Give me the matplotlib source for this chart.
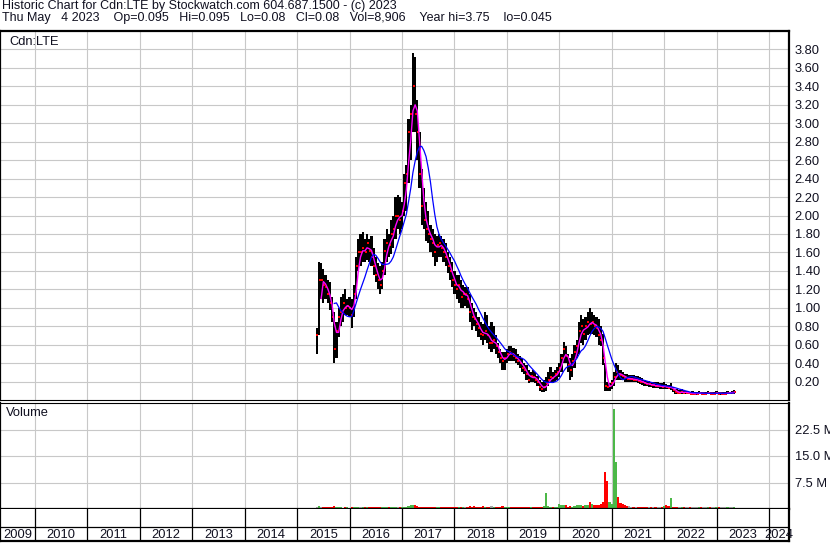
import numpy as np
import matplotlib
matplotlib.use('Agg')
import matplotlib.pyplot as plt

# ---------------- data (semi-monthly periods, starting mid-May 2015) ----------------
start_year = 2015.375
hi = [0.78, 1.50, 1.48, 1.42, 1.35, 1.30, 1.28, 1.12, 0.95, 0.85,
      1.00, 1.12, 1.15, 1.20, 1.10, 1.12, 1.10, 1.25, 1.55, 1.75,
      1.80, 1.82, 1.75, 1.80, 1.75, 1.78, 1.65, 1.55, 1.48, 1.45,
      1.50, 1.75, 1.85, 1.80, 1.95, 2.00, 2.20, 2.22, 2.20, 2.15,
      2.45, 2.55, 3.05, 3.20, 3.76, 3.72, 3.25, 2.90, 2.50, 2.30,
      2.15, 2.05, 1.90, 1.85, 1.80, 1.78, 1.80, 1.78, 1.75, 1.70,
      1.60, 1.55, 1.50, 1.40, 1.35, 1.35, 1.30, 1.25, 1.22, 1.22,
      1.15, 1.05, 1.00, 0.95, 0.90, 0.85, 0.82, 0.95, 0.92, 0.80,
      0.85, 0.80, 0.70, 0.62, 0.55, 0.52, 0.52, 0.55, 0.58, 0.58,
      0.56, 0.55, 0.50, 0.48, 0.45, 0.40, 0.38, 0.32, 0.30, 0.32,
      0.30, 0.26, 0.22, 0.20, 0.22, 0.25, 0.30, 0.36, 0.30, 0.32,
      0.36, 0.40, 0.50, 0.63, 0.58, 0.50, 0.45, 0.50, 0.60, 0.65,
      0.85, 0.92, 0.88, 0.90, 0.95, 1.00, 0.95, 0.92, 0.90, 0.88,
      0.80, 0.72, 0.40, 0.20, 0.18, 0.22, 0.30, 0.40, 0.38, 0.32,
      0.30, 0.28, 0.28, 0.27, 0.27, 0.27, 0.26, 0.26, 0.25, 0.24,
      0.22, 0.21, 0.21, 0.20, 0.20, 0.19, 0.19, 0.18, 0.18, 0.19,
      0.17, 0.16, 0.18, 0.14, 0.12, 0.12, 0.11, 0.12, 0.11, 0.10,
      0.10, 0.09, 0.10, 0.09, 0.09, 0.10, 0.09, 0.09, 0.09, 0.10,
      0.09, 0.09, 0.09, 0.10, 0.09, 0.09, 0.09, 0.09, 0.10, 0.09,
      0.10, 0.11]
lo = [0.50, 0.70, 1.10, 1.05, 1.10, 1.05, 0.98, 0.85, 0.40, 0.45,
      0.68, 0.80, 0.85, 0.92, 0.92, 0.90, 0.78, 0.90, 1.10, 1.40,
      1.45, 1.50, 1.50, 1.52, 1.50, 1.45, 1.35, 1.28, 1.20, 1.15,
      1.20, 1.35, 1.50, 1.55, 1.58, 1.65, 1.75, 1.85, 1.80, 1.85,
      2.00, 2.05, 2.35, 2.60, 2.90, 2.90, 2.60, 2.30, 1.90, 1.85,
      1.72, 1.70, 1.60, 1.55, 1.45, 1.50, 1.55, 1.55, 1.50, 1.45,
      1.38, 1.30, 1.22, 1.15, 1.10, 1.05, 1.00, 1.00, 1.02, 1.00,
      0.85, 0.76, 0.80, 0.75, 0.68, 0.65, 0.60, 0.65, 0.62, 0.55,
      0.52, 0.55, 0.50, 0.45, 0.40, 0.33, 0.32, 0.40, 0.42, 0.42,
      0.42, 0.40, 0.38, 0.35, 0.30, 0.28, 0.22, 0.18, 0.20, 0.20,
      0.18, 0.15, 0.10, 0.09, 0.09, 0.10, 0.15, 0.18, 0.18, 0.20,
      0.22, 0.25, 0.30, 0.40, 0.40, 0.30, 0.22, 0.25, 0.35, 0.45,
      0.50, 0.62, 0.60, 0.65, 0.70, 0.72, 0.72, 0.70, 0.68, 0.60,
      0.58, 0.38, 0.10, 0.10, 0.10, 0.12, 0.15, 0.22, 0.22, 0.22,
      0.22, 0.20, 0.20, 0.20, 0.20, 0.19, 0.19, 0.18, 0.17, 0.16,
      0.15, 0.15, 0.14, 0.14, 0.13, 0.13, 0.13, 0.12, 0.12, 0.12,
      0.12, 0.12, 0.11, 0.09, 0.07, 0.06, 0.06, 0.06, 0.06, 0.06,
      0.06, 0.06, 0.06, 0.05, 0.05, 0.06, 0.06, 0.05, 0.05, 0.06,
      0.06, 0.05, 0.05, 0.06, 0.06, 0.05, 0.05, 0.05, 0.06, 0.06,
      0.06, 0.07]
close = [0.70, 1.30, 1.30, 1.25, 1.22, 1.15, 1.05, 0.90, 0.55, 0.75,
         0.90, 0.95, 1.05, 1.00, 1.02, 1.00, 0.92, 1.15, 1.45, 1.60,
         1.60, 1.65, 1.60, 1.70, 1.62, 1.55, 1.45, 1.35, 1.30, 1.25,
         1.40, 1.62, 1.70, 1.68, 1.80, 1.85, 2.00, 2.00, 1.95, 2.05,
         2.35, 2.45, 2.90, 3.10, 3.40, 3.10, 2.90, 2.45, 2.10, 1.95,
         1.85, 1.80, 1.75, 1.70, 1.60, 1.68, 1.70, 1.65, 1.60, 1.55,
         1.45, 1.40, 1.30, 1.25, 1.20, 1.25, 1.12, 1.15, 1.15, 1.10,
         0.95, 0.90, 0.88, 0.82, 0.78, 0.72, 0.70, 0.75, 0.70, 0.62,
         0.62, 0.65, 0.58, 0.52, 0.45, 0.42, 0.45, 0.50, 0.52, 0.50,
         0.48, 0.45, 0.42, 0.40, 0.35, 0.32, 0.28, 0.22, 0.26, 0.25,
         0.22, 0.20, 0.14, 0.12, 0.14, 0.18, 0.22, 0.25, 0.24, 0.28,
         0.30, 0.35, 0.45, 0.55, 0.48, 0.38, 0.32, 0.42, 0.52, 0.58,
         0.75, 0.80, 0.72, 0.80, 0.85, 0.82, 0.85, 0.80, 0.78, 0.70,
         0.65, 0.45, 0.15, 0.14, 0.15, 0.18, 0.25, 0.30, 0.28, 0.27,
         0.26, 0.24, 0.23, 0.23, 0.23, 0.22, 0.22, 0.21, 0.20, 0.19,
         0.18, 0.17, 0.17, 0.16, 0.16, 0.15, 0.15, 0.15, 0.14, 0.15,
         0.14, 0.13, 0.14, 0.11, 0.09, 0.08, 0.08, 0.09, 0.08, 0.08,
         0.08, 0.07, 0.07, 0.07, 0.07, 0.08, 0.07, 0.07, 0.07, 0.08,
         0.07, 0.07, 0.07, 0.08, 0.07, 0.07, 0.07, 0.07, 0.08, 0.08,
         0.08, 0.09]
volume_m = [0.6, 0.8, 0.7, 0.5, 0.5, 0.6, 0.5, 0.5, 0.8, 0.6,
            0.5, 0.5, 0.4, 0.5, 0.5, 0.4, 0.5, 0.6, 0.7, 0.6,
            0.6, 0.5, 0.5, 0.5, 0.5, 0.5, 0.5, 0.5, 0.5, 0.5,
            0.5, 0.6, 0.6, 0.5, 0.6, 0.6, 0.7, 0.6, 0.6, 0.6,
            0.7, 0.7, 0.9, 1.0, 1.1, 1.0, 0.8, 0.7, 0.7, 0.6,
            0.6, 0.5, 0.5, 0.5, 0.5, 0.5, 0.5, 0.5, 0.5, 0.5,
            0.5, 0.5, 0.5, 0.6, 0.6, 0.6, 0.7, 0.6, 0.6, 0.7,
            0.8, 0.7, 0.8, 0.7, 0.7, 0.7, 0.8, 0.6, 0.6, 0.7,
            0.8, 0.7, 0.7, 0.6, 0.7, 0.8, 0.7, 0.6, 0.6, 0.7,
            0.6, 0.6, 0.6, 0.5, 0.6, 0.6, 0.5, 0.6, 0.6, 0.5,
            0.6, 0.6, 0.7, 0.7, 0.8, 4.4, 0.8, 0.7, 0.6, 0.7,
            0.7, 1.4, 1.0, 1.2, 1.0, 0.7, 0.8, 0.7, 0.9, 1.0,
            1.2, 1.0, 0.9, 1.0, 1.2, 2.0, 1.4, 1.1, 1.0, 1.2,
            1.5, 2.0, 10.6, 8.0, 2.0, 1.5, 28.4, 13.4, 3.4, 1.8,
            1.4, 1.0, 0.9, 0.8, 0.7, 0.7, 0.7, 0.6, 0.6, 0.6,
            0.6, 0.6, 0.6, 0.6, 0.6, 0.6, 0.7, 0.7, 0.7, 0.8,
            1.0, 0.8, 3.1, 0.7, 0.7, 0.7, 0.6, 0.6, 0.6, 0.6,
            0.5, 0.5, 0.5, 0.5, 0.5, 0.6, 0.5, 0.5, 0.5, 0.5,
            0.5, 0.5, 0.5, 0.5, 0.5, 0.5, 0.5, 0.5, 0.5, 0.5,
            0.5, 0.5]

years = list(range(2009, 2025))
price_ticks = [0.2, 0.4, 0.6, 0.8, 1.0, 1.2, 1.4, 1.6, 1.8, 2.0,
               2.2, 2.4, 2.6, 2.8, 3.0, 3.2, 3.4, 3.6, 3.8]
vol_ticks = [7.5, 15.0, 22.5]
vol_tick_labels = ['7.5 M', '15.0 M', '22.5 M']
title1 = 'Historic Chart for Cdn:LTE by Stockwatch.com 604.687.1500 - (c) 2023'
title2 = ('Thu May   4 2023    Op=0.095   Hi=0.095   Lo=0.08   Cl=0.08   '
          'Vol=8,906    Year hi=3.75    lo=0.045')
ma_short, ma_long = 3, 9

# ---------------- figure ----------------
plt.rcParams['font.family'] = ['Liberation Sans', 'DejaVu Sans']
W, H = 830, 543
fig = plt.figure(figsize=(W / 100, H / 100), dpi=100)
fig.patch.set_facecolor('white')


def rect(x0, y0, x1, y1):
    return [x0 / W, 1 - y1 / H, (x1 - x0) / W, (y1 - y0) / H]


FS = 9.3
FS_T = 9.0
GRID = '#c8c8c8'
TXT = '#101020'
XL = (2010 + (0 - 35) / 52.43, 2010 + (789 - 35) / 52.43)

hi_a, lo_a, cl_a = np.array(hi), np.array(lo), np.array(close)
t = start_year + np.arange(len(hi_a)) / 24.0
bw = 1 / 24.0

# price panel
ax = fig.add_axes(rect(0, 31, 789, 400))
ax.set_xlim(*XL)
ax.set_ylim(0, 4.0)
ax.set_xticks(years[1:])
ax.set_yticks(price_ticks)
ax.grid(True, color=GRID, lw=0.8)
ax.set_axisbelow(True)
ax.tick_params(axis='x', length=0, labelbottom=False)
ax.yaxis.tick_right()
ax.tick_params(axis='y', length=0, pad=4, labelsize=FS, labelcolor=TXT)
ax.set_yticklabels(['%.2f' % v for v in price_ticks])
for s in ['top', 'left', 'right']:
    ax.spines[s].set_linewidth(1.6)
ax.spines['bottom'].set_linewidth(0.8)

ax.bar(t, hi_a - lo_a, bottom=lo_a, width=bw, color='black', lw=0, zorder=2)
ax.plot(t + bw * 0.3, cl_a, ls='none', marker='s', ms=1.8, color='red', mew=0, zorder=3)
ms = np.convolve(cl_a, np.ones(ma_short) / ma_short, mode='valid')
ml = np.convolve(cl_a, np.ones(ma_long) / ma_long, mode='valid')
ax.plot(t[ma_short - 1:], ms, color='#ff00ff', lw=1.0, zorder=4)
ax.plot(t[ma_long - 1:], ml, color='#0000ff', lw=0.9, zorder=5)
ax.text(9 / 789, 1 - 5 / 369, 'Cdn:LTE', transform=ax.transAxes, fontsize=FS,
        va='top', ha='left', color=TXT)

# volume panel
av = fig.add_axes(rect(0, 403, 789, 509))
av.set_xlim(*XL)
av.set_ylim(0, 30)
av.set_xticks(years[1:])
av.set_yticks(vol_ticks)
av.grid(True, color=GRID, lw=0.8)
av.set_axisbelow(True)
av.tick_params(axis='x', length=0, labelbottom=False)
av.yaxis.tick_right()
av.tick_params(axis='y', length=0, pad=4, labelsize=FS, labelcolor=TXT)
av.set_yticklabels(vol_tick_labels)
av.spines['top'].set_linewidth(0.8)
for s in ['bottom', 'left', 'right']:
    av.spines[s].set_linewidth(1.6)
vcols = ['#a8a8a8']
for i in range(1, len(cl_a)):
    if cl_a[i] > cl_a[i - 1]:
        vcols.append('#4cb848')
    elif cl_a[i] < cl_a[i - 1]:
        vcols.append('#ff0000')
    else:
        vcols.append('#a8a8a8')
av.bar(t, volume_m, width=bw, color=vcols, lw=0, zorder=2)
av.text(6 / 789, 1 - 4 / 106, 'Volume', transform=av.transAxes, fontsize=FS,
        va='top', ha='left', color=TXT)

# bottom year band
ab = fig.add_axes(rect(0, 509, 789, 541))
ab.set_xlim(*XL)
ab.set_ylim(0, 32)
ab.set_xticks([])
ab.set_yticks([])
for s in ['bottom', 'left', 'right']:
    ab.spines[s].set_linewidth(1.6)
ab.spines['top'].set_visible(False)
ab.axhline(14, color='black', lw=0.9)
for y in years[1:]:
    ab.axvline(y, color='black', lw=0.9)
for y in years:
    a, b = max(y, XL[0]), min(y + 1, XL[1])
    ab.text((a + b) / 2, 6.5, str(y), ha='center', va='center', fontsize=FS,
            color=TXT, clip_on=False)

# header
fig.text(2 / W, 1 - 0 / H, title1, fontsize=FS_T, va='top', ha='left', color=TXT)
fig.text(2 / W, 1 - 12.5 / H, title2, fontsize=FS_T, va='top', ha='left', color=TXT)

fig.savefig('out.png', dpi=100, facecolor='white')
